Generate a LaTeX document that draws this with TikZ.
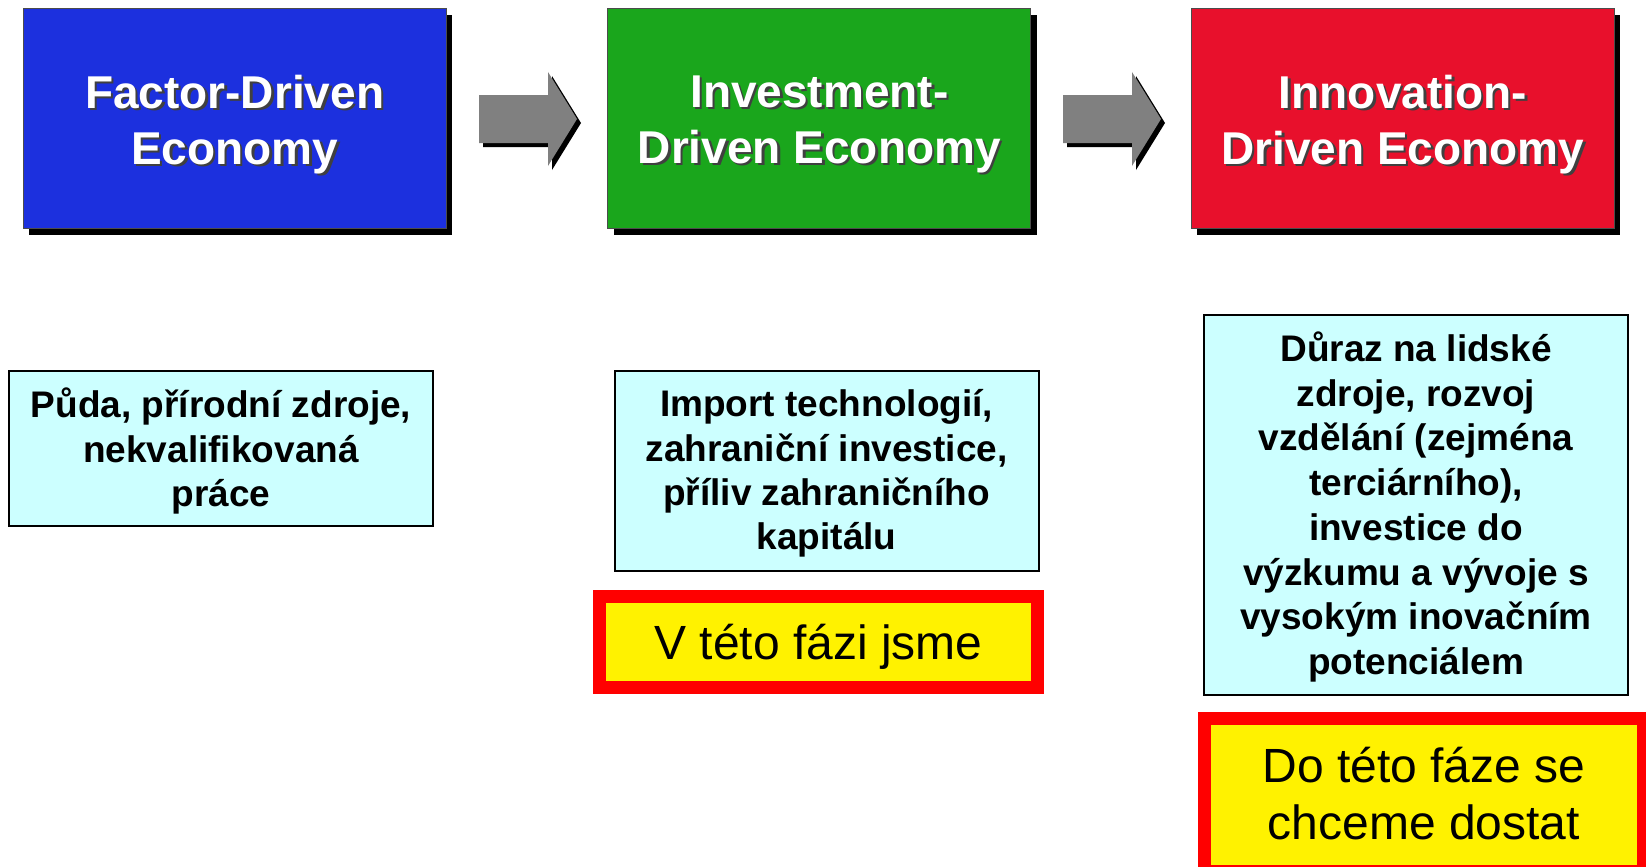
\documentclass[tikz,border=0pt]{standalone}
\usepackage{fontspec}
\setmainfont{Liberation Sans}
\usetikzlibrary{shadows,calc}
\definecolor{stblue}{RGB}{28,48,222}
\definecolor{stgreen}{RGB}{26,166,28}
\definecolor{stred}{RGB}{232,16,44}
\definecolor{cyanbg}{RGB}{204,255,255}
\definecolor{arrgray}{RGB}{128,128,128}
\newcommand{\shtx}[1]{\leavevmode\rlap{\hspace{2.5pt}\raisebox{-2.5pt}{\textcolor{black!75}{#1}}}#1}
\begin{document}
\begin{tikzpicture}[x=1pt,y=-1pt,
  stage/.style={inner sep=0pt, outer sep=0pt, minimum width=423pt, minimum height=220pt,
    draw=black!70, line width=1pt,
    drop shadow={shadow xshift=6pt, shadow yshift=-6pt, opacity=1, fill=black}},
  stagetext/.style={inner sep=0pt, text=white, align=center,
    font=\fontsize{46}{56}\selectfont\bfseries},
  info/.style={inner sep=0pt, outer sep=0pt, draw=black, line width=2pt, fill=cyanbg},
  infotext/.style={inner sep=0pt, align=center, font=\fontsize{37}{44.3}\selectfont\bfseries},
  flag/.style={inner sep=0pt, outer sep=0pt, draw=red, line width=13pt, fill=yellow},
  flagtext/.style={inner sep=0pt, align=center, font=\fontsize{48}{57}\selectfont},
  blockarrow/.style={fill=arrgray},
  blockshadow/.style={fill=black}]
\useasboundingbox (0,0) rectangle (1646,867);
\clip (0,0) rectangle (1646,867);
\fill[white] (0,0) rectangle (1646,867);

% top stage boxes
\node[stage, fill=stblue]  (fd) at (234.6,118.6) {};
\node[stage, fill=stgreen] (id) at (819.3,118.6) {};
\node[stage, fill=stred]   (nd) at (1402.9,118.6) {};
\node[stagetext] (fdt) at ($(fd)+(0,7)$) {\shtx{Factor-Driven}\\\shtx{Economy}};
\node[stagetext] (idt) at ($(id)+(0,7)$) {\shtx{Investment-}\\\shtx{Driven Economy}};
\node[stagetext] (ndt) at ($(nd)+(0,7)$) {\shtx{Innovation-}\\\shtx{Driven Economy}};

% block arrows
\foreach \dx/\nm in {0/a1, 584/a2} {
  \begin{scope}[xshift=\dx]
    \coordinate (\nm) at (479,119);
    \fill[blockshadow] ($(\nm)+(4,-24+4)$) -- ++(69,0) -- ++(0,-23) -- ++(29,47) -- ++(-29,47) -- ++(0,-23) -- ++(-69,0) -- cycle;
    \fill[blockarrow] ($(\nm)+(0,-24)$) -- ++(69,0) -- ++(0,-23) -- ++(29,47) -- ++(-29,47) -- ++(0,-23) -- ++(-69,0) -- cycle;
  \end{scope}
}

% description boxes
\node[info, minimum width=424pt, minimum height=155pt] (d1) at (221,448.2) {};
\node[info, minimum width=424pt, minimum height=200pt] (d2) at (826.6,470.5) {};
\node[info, minimum width=424pt, minimum height=380pt] (d3) at (1416,505) {};
\node[infotext] (d1t) at ($(d1)+(0,3)$) {Půda, přírodní zdroje,\\nekvalifikovaná\\práce};
\node[infotext] (d2t) at ($(d2)+(0,3)$) {Import technologií,\\zahraniční investice,\\příliv zahraničního\\kapitálu};
\node[infotext, font=\fontsize{37}{44.7}\selectfont\bfseries] (d3t) at ($(d3)+(0,2)$)
  {Důraz na lidské\\zdroje, rozvoj\\vzdělání (zejména\\terciárního),\\investice do\\výzkumu a vývoje s\\vysokým inovačním\\potenciálem};

% highlighted notes
\node[flag, minimum width=438pt, minimum height=91pt] (f1) at (818.5,642) {};
\node[flag, minimum width=439pt, minimum height=153pt] (f2) at (1424,795) {};
\node[flagtext] (f1t) at ($(f1)+(0,5)$) {V této fázi jsme};
\node[flagtext] (f2t) at ($(f2)+(0,-1)$) {Do této fáze se\\chceme dostat};
\end{tikzpicture}
\end{document}
